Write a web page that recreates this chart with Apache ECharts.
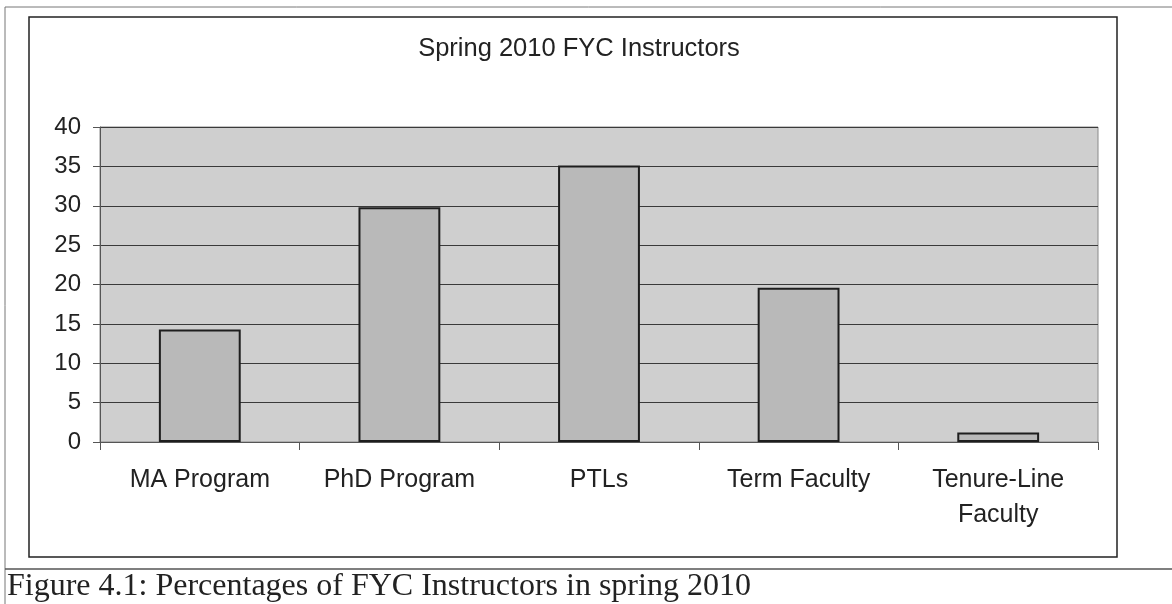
<!DOCTYPE html>
<html>
<head>
<meta charset="utf-8">
<script src="https://cdn.jsdelivr.net/npm/echarts@6/dist/echarts.min.js"></script>
<style>
  html, body { margin: 0; padding: 0; background: #fff; }
  #chart { width: 1172px; height: 604px; }
</style>
</head>
<body>
<div id="chart"></div>
<script>
const categories = ['MA Program', 'PhD Program', 'PTLs', 'Term Faculty', 'Tenure-Line\nFaculty']
const percentages = [14.3, 29.8, 35.1, 19.6, 1.2]
const yTicks = { min: 0, max: 40, interval: 5 }

const chart = echarts.init(document.getElementById('chart'))

const font = '"Liberation Sans", Arial, sans-serif'

const option = {
  animation: false,
  title: {
    text: 'Spring 2010 FYC Instructors',
    left: 574,
    textAlign: 'center',
    top: 31,
    textStyle: { fontFamily: font, fontSize: 25.5, fontWeight: 'normal', color: '#222' }
  },
  grid: {
    left: 100, right: 74, top: 127, bottom: 162,
    show: true,
    backgroundColor: '#cfcfcf',
    borderColor: '#8a8a8a',
    borderWidth: 1
  },
  xAxis: {
    type: 'category',
    data: categories,
    axisLine: { lineStyle: { color: '#555', width: 1 } },
    axisTick: { show: true, length: 8, alignWithLabel: false, lineStyle: { color: '#555' } },
    axisLabel: {
      margin: 21,
      interval: 0,
      fontFamily: font,
      fontSize: 25,
      lineHeight: 35,
      color: '#222'
    }
  },
  yAxis: {
    type: 'value',
    min: yTicks.min,
    max: yTicks.max,
    interval: yTicks.interval,
    axisLine: { show: true, lineStyle: { color: '#555', width: 1 } },
    axisTick: { show: true, length: 7, lineStyle: { color: '#555' } },
    axisLabel: { margin: 19, fontFamily: font, fontSize: 24, color: '#222' },
    splitLine: { lineStyle: { color: '#3a3a3a', width: 1 } }
  },
  series: [{
    type: 'bar',
    data: percentages,
    barWidth: '41%',
    itemStyle: { color: '#b9b9b9', borderColor: '#1e1e1e', borderWidth: 2 }
  }],
  graphic: [
    // outer page frame
    { type: 'line', shape: { x1: 5, y1: 7, x2: 1172, y2: 7 }, style: { stroke: '#777', lineWidth: 1 } },
    { type: 'line', shape: { x1: 5, y1: 7, x2: 5, y2: 604 }, style: { stroke: '#777', lineWidth: 1 } },
    { type: 'line', shape: { x1: 5, y1: 569, x2: 1172, y2: 569 }, style: { stroke: '#555', lineWidth: 1.5 } },
    // chart area border
    { type: 'rect', shape: { x: 29, y: 17, width: 1088, height: 540 }, style: { fill: null, stroke: '#222', lineWidth: 1.5 } },
    {
      type: 'text', x: 7, y: 571,
      style: {
        text: 'Figure 4.1: Percentages of FYC Instructors in spring 2010',
        font: '32px "Liberation Serif", "Times New Roman", serif',
        fill: '#222'
      }
    }
  ]
}

chart.setOption(option)
window.addEventListener('resize', () => chart.resize())
</script>
</body>
</html>
